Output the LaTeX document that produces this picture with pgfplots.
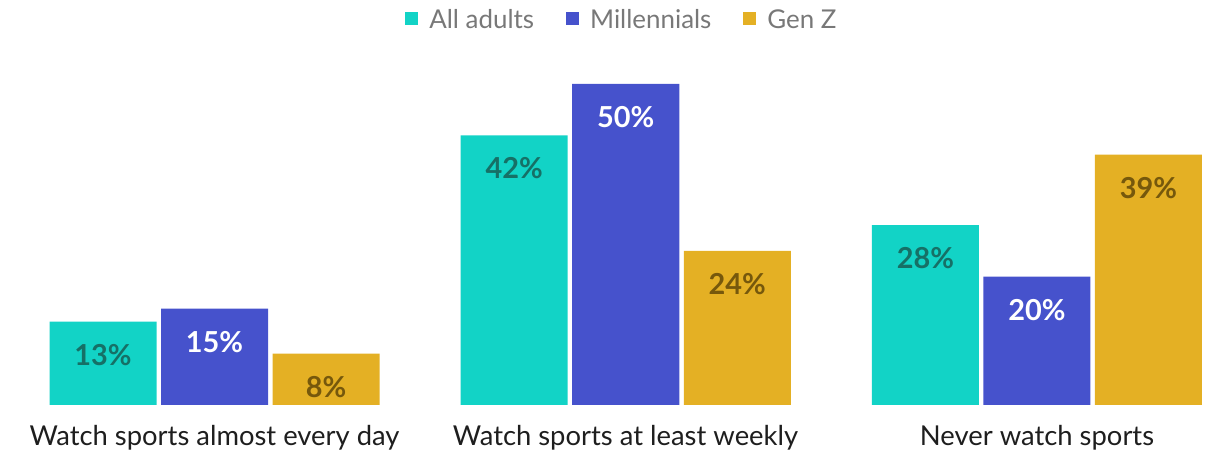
\documentclass[border=0pt]{standalone}
\usepackage{pgfplots}
\pgfplotsset{compat=1.18}
\usepackage{fontspec}
\setmainfont{Lato}
\definecolor{cteal}{RGB}{18,211,198}
\definecolor{cblue}{RGB}{70,82,204}
\definecolor{cgold}{RGB}{228,176,36}
\definecolor{lteal}{RGB}{22,112,102}
\definecolor{lgold}{RGB}{118,88,12}
\definecolor{ltext}{RGB}{120,120,120}
\begin{document}
\begin{tikzpicture}
\useasboundingbox (0,0) rectangle (1210bp,455bp);
\begin{axis}[
  at={(0bp,50bp)}, anchor=south west,
  scale only axis, width=1210bp, height=360bp,
  ymin=0, ymax=56.07,
  xmin=-0.5216, xmax=2.4207,
  ybar=4.5bp, bar width=107bp,
  axis lines=none,
  xtick=\empty,
  ytick=\empty,
  clip=false,
  /pgf/number format/assume math mode=true,
  nodes near coords={\pgfmathprintnumber{\pgfplotspointmeta}\%},
  every node near coord/.append style={anchor=north, yshift=-19bp, font=\fontsize{29}{33}\selectfont\bfseries},
  legend style={at={(0.514,1.069)}, anchor=center, draw=none, fill=none, legend columns=-1,
    font=\fontsize{26}{30}\selectfont, text=ltext,
    /tikz/every odd column/.append style={column sep=9bp},
    /tikz/every even column/.append style={column sep=30bp}},
  legend image code/.code={\fill[#1] (0bp,-5bp) rectangle (13bp,8bp);},
]
\addplot[fill=cteal, draw=none, every node near coord/.append style={text=lteal}] coordinates {(0,13) (1,42) (2,28)};
\addplot[fill=cblue, draw=none, every node near coord/.append style={text=white}] coordinates {(0,15) (1,50) (2,20)};
\addplot[fill=cgold, draw=none, every node near coord/.append style={text=lgold}] coordinates {(0,8) (1,24) (2,39)};
\legend{All adults,Millennials,Gen Z}
\end{axis}
\foreach \x/\t in {214.5/Watch sports almost every day,625.5/Watch sports at least weekly,1037/Never watch sports}{
  \node[font=\fontsize{27.5}{31}\selectfont, text={rgb,255:red,30;green,30;blue,30}] at (\x bp,17bp) {\t};
}
\end{tikzpicture}
\end{document}
